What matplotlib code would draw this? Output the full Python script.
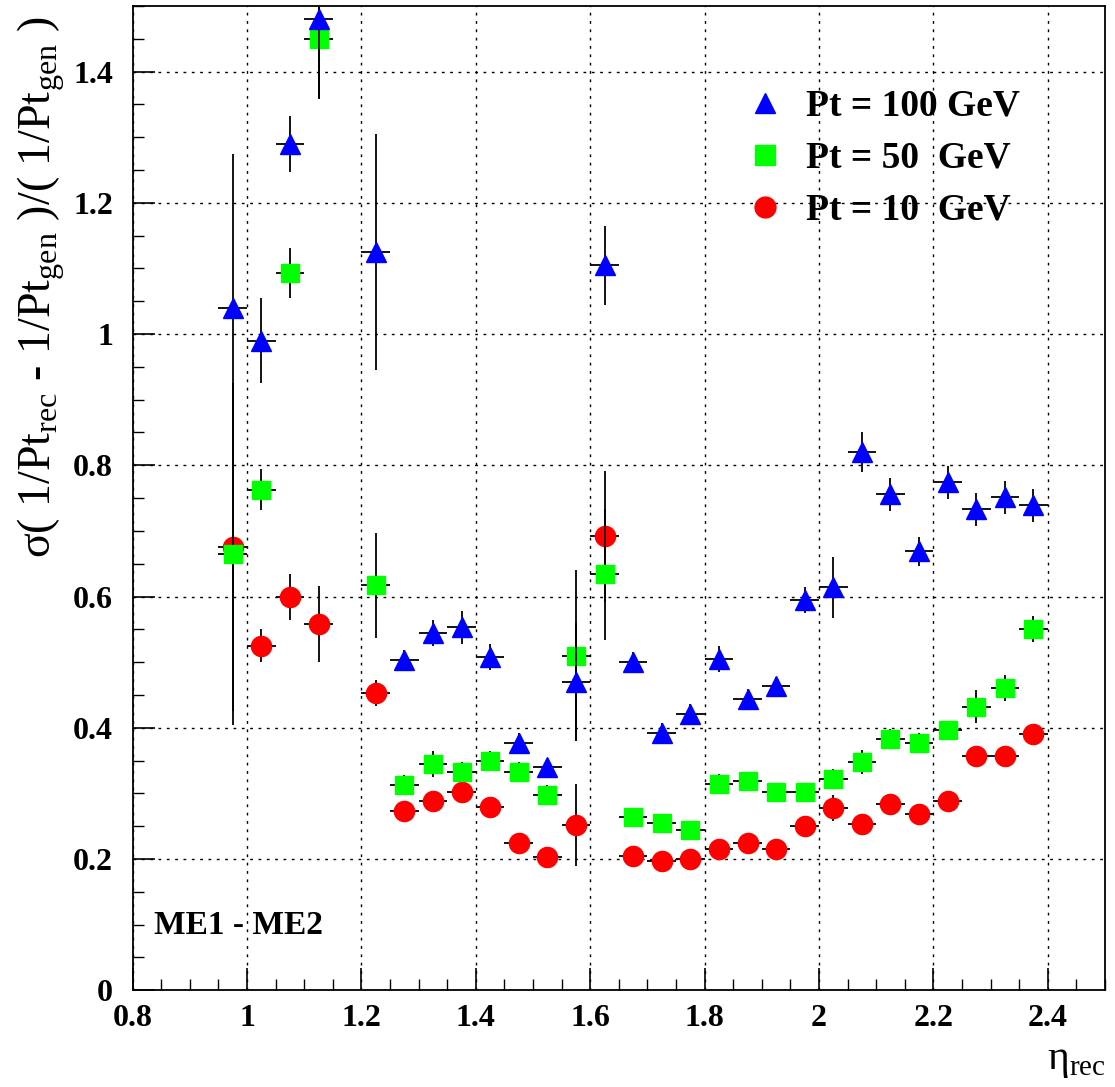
import numpy as np
import matplotlib
matplotlib.use("Agg")
from matplotlib import pyplot as plt
from matplotlib.ticker import MultipleLocator
from matplotlib.lines import Line2D

plt.rcParams['font.family'] = ['Liberation Serif', 'DejaVu Serif']
plt.rcParams['mathtext.fontset'] = 'custom'
plt.rcParams['mathtext.rm'] = 'Liberation Serif'

# eta bin centres (bin 1.15-1.2 is empty)
eta = [0.975, 1.025, 1.075, 1.125, 1.225, 1.275, 1.325, 1.375, 1.425, 1.475,
       1.525, 1.575, 1.625, 1.675, 1.725, 1.775, 1.825, 1.875, 1.925, 1.975,
       2.025, 2.075, 2.125, 2.175, 2.225, 2.275, 2.325, 2.375]
eta_err = 0.025

# Pt = 100 GeV
res100 = [1.04, 0.99, 1.29, 1.48, 1.125, 0.503, 0.545, 0.553, 0.508, 0.377,
          0.34, 0.47, 1.105, 0.50, 0.392, 0.421, 0.505, 0.444, 0.463, 0.595,
          0.614, 0.82, 0.756, 0.669, 0.774, 0.733, 0.751, 0.739]
err100 = [0.235, 0.065, 0.043, 0.12, 0.18, 0.015, 0.02, 0.025, 0.02, 0.015,
          0.012, 0.09, 0.06, 0.015, 0.015, 0.015, 0.02, 0.015, 0.015, 0.02,
          0.047, 0.03, 0.025, 0.022, 0.025, 0.025, 0.025, 0.025]

# Pt = 50 GeV
res50 = [0.665, 0.763, 1.093, 1.449, 0.617, 0.313, 0.345, 0.333, 0.35, 0.333,
         0.298, 0.51, 0.634, 0.264, 0.255, 0.244, 0.315, 0.319, 0.302, 0.302,
         0.322, 0.348, 0.383, 0.377, 0.396, 0.432, 0.461, 0.551]
err50 = [0.26, 0.031, 0.038, 0.09, 0.08, 0.015, 0.02, 0.015, 0.015, 0.015,
         0.015, 0.13, 0.1, 0.012, 0.012, 0.012, 0.015, 0.012, 0.012, 0.012,
         0.015, 0.018, 0.015, 0.015, 0.015, 0.025, 0.02, 0.02]

# Pt = 10 GeV
res10 = [0.675, 0.525, 0.6, 0.558, 0.453, 0.273, 0.288, 0.302, 0.28, 0.224,
         0.203, 0.252, 0.692, 0.204, 0.197, 0.2, 0.215, 0.225, 0.215, 0.25,
         0.278, 0.254, 0.284, 0.268, 0.288, 0.357, 0.357, 0.391]
err10 = [0.25, 0.025, 0.035, 0.058, 0.02, 0.01, 0.012, 0.015, 0.012, 0.01,
         0.01, 0.063, 0.1, 0.01, 0.01, 0.01, 0.01, 0.01, 0.01, 0.012,
         0.02, 0.012, 0.012, 0.012, 0.012, 0.01, 0.01, 0.012]

fig = plt.figure(figsize=(11.15, 10.87), dpi=100)
ax = fig.add_axes([0.119, 0.089, 0.872, 0.9055])

# red, then green, then blue on top
ax.errorbar(eta, res10, yerr=err10, xerr=eta_err, fmt='o', color='red',
            ms=14.5, ecolor='black', elinewidth=1.3, capsize=0, zorder=3)
ax.errorbar(eta, res50, yerr=err50, xerr=eta_err, fmt='s', color='#00ff00',
            ms=13.5, ecolor='black', elinewidth=1.3, capsize=0, zorder=4)
ax.errorbar(eta, res100, yerr=err100, xerr=eta_err, fmt='^', color='blue',
            ms=14, ecolor='black', elinewidth=1.3, capsize=0, zorder=5)

ax.set_xlim(0.8, 2.5)
ax.set_ylim(0, 1.5)
ax.xaxis.set_major_locator(MultipleLocator(0.2))
ax.xaxis.set_minor_locator(MultipleLocator(0.05))
ax.yaxis.set_major_locator(MultipleLocator(0.2))
ax.yaxis.set_minor_locator(MultipleLocator(0.05))
ax.tick_params(which='major', direction='in', length=16, width=1.2, labelsize=23)
ax.tick_params(axis='x', which='major', pad=10)
ax.tick_params(axis='y', which='major', pad=14)
ax.tick_params(which='minor', direction='in', length=8, width=1.0)
ax.tick_params(axis='y', which='both', right=False)
ax.tick_params(axis='x', which='both', top=False)
ax.xaxis.set_major_formatter(plt.FuncFormatter(lambda v, p: f"{v:g}"))
ax.yaxis.set_major_formatter(plt.FuncFormatter(lambda v, p: f"{v:g}"))
for lab in ax.get_xticklabels() + ax.get_yticklabels():
    lab.set_fontweight('bold')
for s in ax.spines.values():
    s.set_linewidth(1.3)

ax.grid(True, which='major', color='black', linestyle=(0, (2, 4)), linewidth=1.0)
ax.set_axisbelow(True)

fig.text(0.037, 0.985, 'σ( 1/Pt$_{\\rm rec}$ - 1/Pt$_{\\rm gen}$ )/( 1/Pt$_{\\rm gen}$ )',
         fontsize=33, rotation=90, ha='center', va='top')
fig.text(0.992, 0.006, 'η$_{\\rm rec}$', fontsize=30, ha='right', va='bottom')

ax.text(0.838, 0.099, 'ME1 - ME2', fontsize=24, fontweight='bold',
        va='center', ha='left')

handles = [Line2D([], [], ls='none', marker='^', color='blue', ms=15),
           Line2D([], [], ls='none', marker='s', color='#00ff00', ms=14),
           Line2D([], [], ls='none', marker='o', color='red', ms=15)]
ax.legend(handles, ['Pt = 100 GeV', 'Pt = 50  GeV', 'Pt = 10  GeV'],
          loc='upper left', bbox_to_anchor=(0.593, 0.95), frameon=False,
          prop={'family': 'Liberation Serif', 'weight': 'bold', 'size': 27},
          handletextpad=0.49, labelspacing=0.45, handlelength=1.2)

fig.savefig('out.png', dpi=100)
